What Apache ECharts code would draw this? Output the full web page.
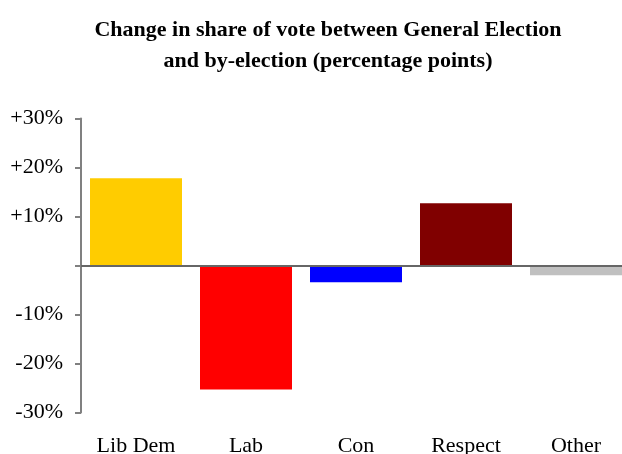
<!DOCTYPE html>
<html>
<head>
<meta charset="utf-8">
<script src="https://cdn.jsdelivr.net/npm/echarts@6/dist/echarts.min.js"></script>
<style>
html,body{margin:0;padding:0;background:#fff;overflow:hidden;}
#c{width:631px;height:454px;}
</style>
</head>
<body>
<div id="c"></div>
<script>
const categories = ['Lib Dem', 'Lab', 'Con', 'Respect', 'Other'];
const changes = [17.8, -25.3, -3.4, 12.7, -2.0];
const barColors = ['#FFCC00', '#FF0000', '#0000FF', '#800000', '#C0C0C0'];
const yTicks = [-30, -20, -10, 0, 10, 20, 30];
const yTickLabels = ['-30%', '-20%', '-10%', '', '+10%', '+20%', '+30%'];
const titleLines = ['Change in share of vote between General Election', 'and by-election (percentage points)'];

const chart = echarts.init(document.getElementById('c'), null, {renderer: 'canvas'});
const serif = '"Liberation Serif", "DejaVu Serif", serif';
chart.setOption({
  animation: false,
  backgroundColor: '#ffffff',
  title: {
    text: titleLines.join('\n'),
    left: 323,
    textAlign: 'center',
    top: 10,
    textStyle: {fontFamily: serif, fontWeight: 'bold', fontSize: 22, lineHeight: 31, color: '#000'}
  },
  grid: {left: 81, top: 118.5, right: 0, height: 294, containLabel: false, outerBoundsMode: 'none'},
  xAxis: {
    type: 'category',
    data: categories,
    position: 'bottom',
    axisLine: {show: false, onZero: false},
    axisTick: {show: false},
    axisLabel: {fontFamily: serif, fontSize: 22, color: '#000', margin: 23}
  },
  yAxis: {
    type: 'value',
    min: -30, max: 30, interval: 10,
    splitLine: {show: false},
    axisLine: {show: true, lineStyle: {color: '#808080', width: 2}},
    axisTick: {show: true, inside: false, length: 6, lineStyle: {color: '#808080', width: 2}},
    axisLabel: {
      fontFamily: serif, fontSize: 22, color: '#000', margin: 18,
      formatter: function (v) { const i = yTicks.indexOf(v); return i >= 0 ? yTickLabels[i] : ''; }
    }
  },
  series: [{
    type: 'bar',
    barWidth: 92,
    data: changes.map((v, i) => ({value: v, itemStyle: {color: barColors[i]}})),
    markLine: {
      silent: true,
      symbol: 'none',
      label: {show: false},
      lineStyle: {color: '#666666', width: 2, type: 'solid'},
      data: [{yAxis: 0}]
    }
  }]
});
</script>
</body>
</html>
